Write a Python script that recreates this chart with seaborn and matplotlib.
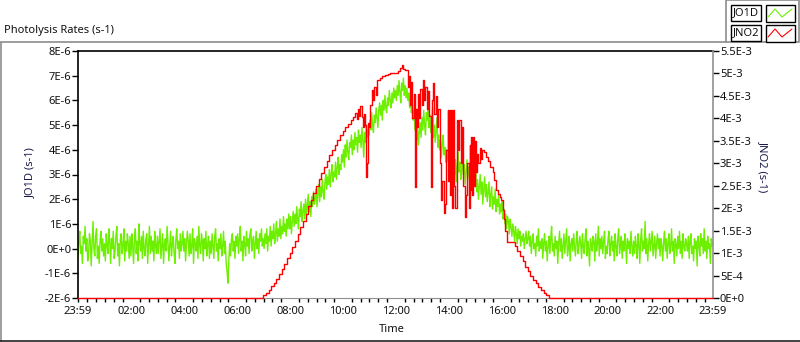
import matplotlib.pyplot as plt
import seaborn as sns
import numpy as np
import pandas as pd
from matplotlib.ticker import MultipleLocator
from matplotlib.patches import Rectangle
from matplotlib.lines import Line2D

# JO1D (s-1), one value every 2 minutes from 23:59, in units of 1E-7
jo1d = [
    -4, 3, 7, -2, 1, -6, 5, 2, 9, -1, 4, -5, -2, 6, 3, -7, 2, 11, 0, -3, 5, 8, -4, 1, -6, 3, 7, -1, 4, -3,
    2, -5, 6, 1, -2, 8, 3, -6, 4, 0, 7, -4, -1, 5, 9, -3, 2, -7, 4, 6, -2, 1, 8, -5, 3, -1, 6, 2, -4, 5,
    -3, 6, 1, -6, 4, 8, -2, 3, -5, 10, 2, -1, 5, -4, 7, 0, -3, 4, 6, -6, 2, 9, -2, 5, -1, 3, -5, 7, 1, -2,
    5, -2, 3, 8, -4, 1, 6, -6, 2, 4, -1, 9, 3, -5, 1, 7, -3, 2, 5, -2, -6, 4, 8, 0, 3, -4, 6, -1, 2, 7,
    -1, 4, -5, 2, 7, 3, -3, 6, -2, 1, 8, -6, 4, 2, -1, 5, -4, 9, 1, -2, 6, 3, -5, 4, 0, 7, -3, 2, 5, -4,
    3, -2, 6, 1, -4, 5, 8, -1, 2, -5, 4, 0, 6, -3, 1, 7, -2, 3, -6, -9, -14, -5, 2, -3, 4, 6, -1, 3, -4, 5,
    1, 6, -2, 4, 9, -1, 3, -5, 5, 2, -3, 7, 1, 4, -2, 6, 8, -1, 3, 5, -4, 2, 7, 0, 4, -2, 6, 3, 8, 1,
    4, 0, 6, 2, 8, -1, 5, 3, 9, 1, 7, 4, 10, 2, 6, 11, 3, 8, 5, 12, 4, 9, 6, 13, 7, 10, 5, 12, 8, 14,
    8, 13, 6, 11, 15, 9, 14, 10, 17, 12, 8, 16, 13, 19, 11, 15, 18, 12, 20, 14, 17, 22, 15, 19, 13, 21, 17, 23, 18, 20,
    24, 17, 22, 26, 19, 25, 21, 28, 23, 20, 27, 30, 24, 29, 26, 32, 25, 30, 34, 27, 31, 29, 35, 28, 33, 37, 30, 34, 32, 38,
    35, 40, 33, 42, 37, 44, 39, 36, 43, 41, 46, 38, 44, 40, 47, 42, 45, 39, 48, 43, 46, 41, 49, 44, 37, 47, 43, 50, 45, 48,
    46, 52, 48, 55, 50, 47, 54, 51, 57, 53, 49, 56, 59, 54, 58, 52, 60, 56, 62, 57, 55, 61, 58, 64, 60, 57, 63, 59, 65, 61,
    64, 60, 66, 62, 68, 63, 59, 67, 64, 69, 62, 66, 61, 65, 60, 63, 57, 62, 55, 59, 52, 56, 48, 53, 44, 50, 42, 47, 51, 45,
    53, 48, 56, 50, 46, 55, 52, 58, 49, 54, 47, 52, 57, 45, 50, 43, 48, 53, 41, 46, 40, 44, 37, 42, 46, 38, 41, 35, 40, 37,
    35, 40, 31, 37, 29, 34, 38, 30, 36, 27, 33, 39, 31, 35, 28, 32, 37, 30, 34, 26, 31, 36, 29, 33, 27, 35, 30, 25, 32, 28,
    27, 31, 23, 28, 20, 25, 30, 22, 27, 18, 24, 29, 21, 26, 19, 23, 27, 17, 22, 25, 16, 21, 18, 24, 15, 20, 17, 22, 14, 18,
    15, 19, 12, 16, 10, 14, 8, 13, 11, 6, 12, 9, 5, 10, 7, 3, 9, 6, 2, 8, 4, 7, 1, 5, 3, 6, 0, 4, 7, 2,
    4, 7, 1, 5, -2, 3, 6, 0, 2, -3, 5, 1, 8, -1, 3, 0, 4, -4, 2, 6, -1, 3, -5, 1, 5, -2, 4, 9, -1, 2,
    -3, 5, 0, 3, -6, 2, 7, -1, 4, -4, 1, 6, -2, 3, 8, -3, 0, 5, -5, 2, 4, -1, 6, 1, -3, 3, 7, -2, 1, 5,
    2, -4, 6, 1, -2, 4, 8, -3, 3, 0, -7, 4, 2, -1, 5, 3, -5, 6, -1, 2, 9, -3, 4, 0, 5, -2, 3, 7, -4, 1,
    -2, 4, 7, -3, 2, 5, -1, 3, -5, 6, 1, -3, 4, 8, -2, 1, 5, -4, 3, -1, 6, 2, -6, 4, 0, 3, -2, 7, 1, -3,
    3, -2, 5, 1, -4, 6, 2, -6, 4, 8, -1, 3, 0, 11, -2, 4, -5, 2, 6, -1, 3, 7, -3, 1, 5, -4, 2, 6, 0, 4,
    -3, 4, 1, -5, 3, 7, -1, 4, -4, 2, 6, -2, 1, 8, -1, 3, -6, 4, 2, -3, 5, 0, 7, -2, 3, -4, 6, 1, -1, 4,
    2, -1, 5, -4, 3, 6, -2, 1, -5, 4, 0, 3, -7, 5, 2, -3, 6, 1, 4, -2, 8, -1, 3, -4, 5, 0, 2, -6, 4, 1,
    3,
]

# JNO2 (s-1): minutes after 23:59 and value in units of 1E-5 (stepped signal)
jno2_min = [
    0, 419, 420, 426, 432, 438, 444, 450, 456, 462, 468, 474, 480, 486, 492, 498,
    504, 510, 516, 522, 528, 534, 540, 546, 552, 558, 564, 570, 576, 582, 588, 594,
    600, 606, 612, 618, 624, 628, 632, 634, 637, 640, 643, 646, 648, 650, 653, 655,
    657, 660, 663, 666, 669, 672, 675, 678, 684, 690, 696, 702, 708, 714, 720, 726,
    730, 734, 737, 741, 745, 748, 750, 753, 756, 758, 761, 764, 766, 768, 771, 773,
    776, 779, 782, 785, 788, 791, 794, 797, 800, 802, 805, 808, 811, 814, 817, 820,
    823, 826, 829, 832, 835, 838, 840, 842, 844, 846, 848, 850, 853, 856, 859, 862,
    865, 868, 871, 874, 877, 880, 883, 886, 888, 890, 892, 894, 896, 898, 900, 902,
    905, 908, 911, 914, 917, 920, 925, 930, 935, 940, 944, 948, 952, 956, 960, 963,
    966, 969, 972, 984, 990, 996, 1002, 1008, 1014, 1020, 1026, 1032, 1038, 1044,
    1050, 1056, 1062, 1068, 1440,
]
jno2_val = [
    0, 0, 6, 12, 18, 26, 34, 43, 53, 64, 76, 89, 101, 114, 128, 142,
    157, 172, 188, 204, 219, 234, 250, 264, 278, 292, 305, 318, 330, 341, 352, 362,
    372, 380, 388, 396, 404, 412, 398, 420, 405, 428, 402, 380, 410, 385, 270, 300,
    390, 381, 430, 463, 440, 470, 452, 485, 490, 494, 497, 498, 500, 500, 501, 505,
    512, 519, 510, 508, 508, 470, 495, 430, 480, 400, 455, 248, 420, 380, 455, 400,
    465, 430, 485, 440, 470, 420, 460, 405, 248, 440, 479, 410, 450, 380, 420, 300,
    218, 260, 189, 210, 330, 419, 260, 419, 230, 419, 200, 419, 250, 200, 396, 330,
    396, 300, 380, 250, 180, 230, 300, 200, 340, 240, 359, 230, 359, 250, 350, 280,
    320, 300, 335, 310, 330, 325, 315, 305, 292, 280, 262, 240, 232, 225, 218, 195,
    175, 150, 125, 125, 115, 104, 94, 82, 70, 60, 50, 41, 33, 25,
    18, 11, 6, 0, 0,
]

tick_minutes = [0, 121, 241, 361, 481, 601, 721, 841, 961, 1081, 1201, 1321, 1440]
tick_labels = ["23:59", "02:00", "04:00", "06:00", "08:00", "10:00", "12:00",
               "14:00", "16:00", "18:00", "20:00", "22:00", "23:59"]
left_ticks = [-2e-6, -1e-6, 0, 1e-6, 2e-6, 3e-6, 4e-6, 5e-6, 6e-6, 7e-6, 8e-6]
left_labels = ["-2E-6", "-1E-6", "0E+0", "1E-6", "2E-6", "3E-6", "4E-6",
               "5E-6", "6E-6", "7E-6", "8E-6"]
right_ticks = [0, 5e-4, 1e-3, 1.5e-3, 2e-3, 2.5e-3, 3e-3, 3.5e-3, 4e-3,
               4.5e-3, 5e-3, 5.5e-3]
right_labels = ["0E+0", "5E-4", "1E-3", "1.5E-3", "2E-3", "2.5E-3", "3E-3",
                "3.5E-3", "4E-3", "4.5E-3", "5E-3", "5.5E-3"]

sns.set_style("white")
plt.rcParams['font.family'] = ['Noto Sans', 'DejaVu Sans']

W, H = 800, 342
fig = plt.figure(figsize=(W / 100, H / 100), dpi=100)
ax = fig.add_axes([78 / W, 44 / H, 635 / W, 247 / H])
ax2 = ax.twinx()

df1 = pd.DataFrame({"t": np.arange(len(jo1d)) * 2, "v": np.array(jo1d) * 1e-7})
df2 = pd.DataFrame({"t": jno2_min, "v": np.array(jno2_val) * 1e-5})

sns.lineplot(data=df1, x="t", y="v", ax=ax, color="#6CF000", lw=1.0, estimator=None)
sns.lineplot(data=df2, x="t", y="v", ax=ax2, color="#FF0000", lw=1.0,
             drawstyle="steps-post", estimator=None, clip_on=False, zorder=5)

ax.set_xlim(0, 1440)
ax.set_ylim(-2e-6, 8e-6)
ax2.set_ylim(0, 5.5e-3)
ax.set_xticks(tick_minutes)
ax.set_xticklabels(tick_labels)
ax.xaxis.set_minor_locator(MultipleLocator(20, offset=1))
ax.set_yticks(left_ticks)
ax.set_yticklabels(left_labels)
ax2.set_yticks(right_ticks)
ax2.set_yticklabels(right_labels)
ax.set_xlabel("")
ax.set_ylabel("")
ax2.set_ylabel("")

ax.tick_params(axis='both', which='major', direction='out', length=4, width=1,
               color='black', labelsize=8, pad=1, labelcolor='#111111')
ax.tick_params(axis='x', which='minor', direction='out', length=3, width=1,
               color='black', bottom=True)
ax.tick_params(axis='x', pad=2)
ax2.tick_params(axis='y', direction='out', length=4, width=1, color='black',
                labelsize=8, pad=1, labelcolor='#111111')

for s in ['left', 'top']:
    ax.spines[s].set_color('black')
    ax.spines[s].set_linewidth(1.2)
ax.spines['bottom'].set_color('#909090')
ax.spines['right'].set_visible(False)
for s in ['left', 'top', 'bottom']:
    ax2.spines[s].set_visible(False)
ax2.spines['right'].set_color('#909090')
ax2.spines['right'].set_linewidth(1.2)

lab_col = '#1a1a4a'
fig.text(30 / W, 1 - 173 / H, "JO1D (s-1)", rotation=90, ha='center', va='center',
         fontsize=8, color=lab_col)
fig.text(763 / W, 1 - 167 / H, "JNO2 (s-1)", rotation=270, ha='center', va='center',
         fontsize=8, color=lab_col)
fig.text(392 / W, 1 - 330 / H, "Time", ha='center', va='center', fontsize=8,
         color='#111111')
fig.text(4 / W, 1 - 30 / H, "Photolysis Rates (s-1)", ha='left', va='center',
         fontsize=8, color='#111111')

# panel frame
gray = '#8c8c8c'
fig.add_artist(Line2D([0.5 / W, 726 / W], [1 - 42 / H] * 2, color=gray, lw=1.2))
fig.add_artist(Line2D([0.5 / W, 0.5 / W], [1 - 42 / H, 0], color=gray, lw=1.2))
fig.add_artist(Line2D([0, 1], [0.8 / H] * 2, color='#222222', lw=1.2))
fig.add_artist(Rectangle((726 / W, 1 - 42 / H), 73 / W, 42 / H, transform=fig.transFigure,
                         fc='white', ec=gray, lw=1.2))

# legend
for name, col, yc in [("JO1D", "#6CF000", 13), ("JNO2", "#FF0000", 33)]:
    fig.text(746 / W, 1 - yc / H, name, ha='center', va='center', fontsize=8,
             color='#111111',
             bbox=dict(boxstyle='square,pad=0.2', fc='white', ec='black', lw=1))
    fig.add_artist(Rectangle((766 / W, 1 - (yc + 8.5) / H), 29 / W, 17 / H,
                             transform=fig.transFigure, fc='white', ec='black', lw=1))
    fig.add_artist(Line2D([768 / W, 775 / W, 782 / W, 792 / W],
                          [1 - (yc + 4) / H, 1 - (yc - 4) / H, 1 - (yc + 4) / H, 1 - (yc - 4) / H],
                          color=col, lw=0.8))

fig.savefig("out.png", dpi=100)
